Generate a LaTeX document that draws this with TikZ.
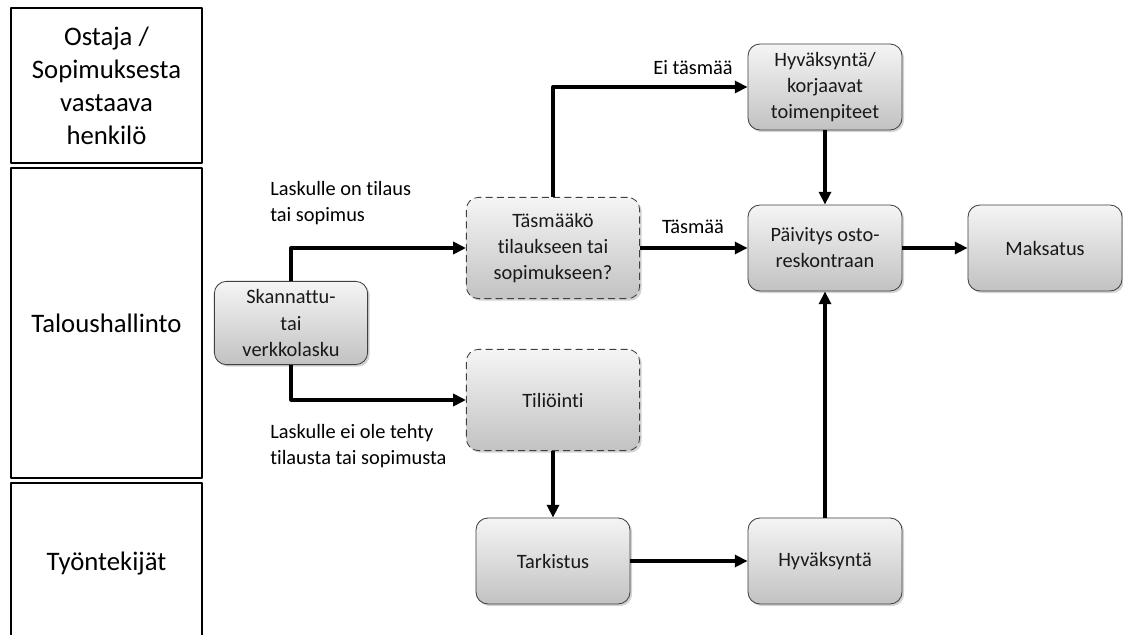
\documentclass[tikz,border=0pt]{standalone}
\usepackage{fontspec}
\setmainfont{Carlito}[Ligatures={NoCommon}]
\usetikzlibrary{arrows.meta, shadows}

\tikzset{
  box/.style={draw=black!75, line width=0.6pt, rounded corners=0.3cm,
    top color=gray!8, bottom color=gray!48,
    drop shadow={shadow xshift=1.5pt, shadow yshift=-1.5pt, opacity=0.35},
    align=center, text=black!90, font=\fontsize{14.5}{18.5}\selectfont,
    minimum width=3.85cm, minimum height=2.15cm, inner sep=2pt},
  dbox/.style={box, dash pattern=on 5pt off 3pt,
    minimum width=4.33cm, minimum height=2.53cm},
  lane/.style={draw, line width=1.4pt, align=center, inner sep=0pt,
    font=\fontsize{19}{23.5}\selectfont, minimum width=4.78cm},
  flow/.style={line width=2.3pt, -{Triangle[length=3.2mm,width=3mm]}},
  lbl/.style={font=\fontsize{14.5}{19}\selectfont, align=left, inner sep=0pt}
}

\begin{document}
\begin{tikzpicture}[x=0.025cm, y=-0.025cm, line join=round]
\useasboundingbox (0,0) rectangle (1123,635);
% lanes
\node[lane, minimum height=3.88cm] (buyer) at (106.5,85.5) {Ostaja /\\Sopimuksesta\\vastaava\\henkilö};
\node[lane, minimum height=7.75cm] (finance) at (106.5,323) {Taloushallinto};
\node[lane, minimum height=4.05cm] (staff) at (106.5,564) {Työntekijät};

% process boxes
\node[box, minimum width=3.83cm, minimum height=2.08cm] (scan) at (291,323) {Skannattu-\\tai\\verkkolasku};
\node[dbox] (match) at (553,248) {Täsmääkö\\tilaukseen tai\\sopimukseen?};
\node[dbox] (post) at (553,400) {Tiliöinti};
\node[box] (fix) at (825,87) {Hyväksyntä/\\korjaavat\\toimenpiteet};
\node[box] (update) at (825,248) {Päivitys osto-\\reskontraan};
\node[box] (pay) at (1045,248) {Maksatus};
\node[box] (check) at (553,561) {Tarkistus};
\node[box] (approve) at (825,561) {Hyväksyntä};

% connectors
\draw[flow] (scan.north) |- (match.west);
\draw[flow] (scan.south) |- (post.west);
\draw[flow] (match.north) |- (fix.west);
\draw[flow] (match.east) -- (update.west);
\draw[flow] (fix.south) -- (update.north);
\draw[flow] (update.east) -- (pay.west);
\draw[flow] (post.south) -- (check.north);
\draw[flow] (check.east) -- (approve.west);
\draw[flow] (approve.north) -- (update.south);

% labels
\node[lbl, anchor=west] (yes) at (270,203) {Laskulle on tilaus\\tai sopimus};
\node[lbl, anchor=west] (no) at (270,446) {Laskulle ei ole tehty\\tilausta tai sopimusta};
\node[lbl] (nomatch) at (693,68) {Ei täsmää};
\node[lbl] (ok) at (693,227) {Täsmää};
\end{tikzpicture}
\end{document}
